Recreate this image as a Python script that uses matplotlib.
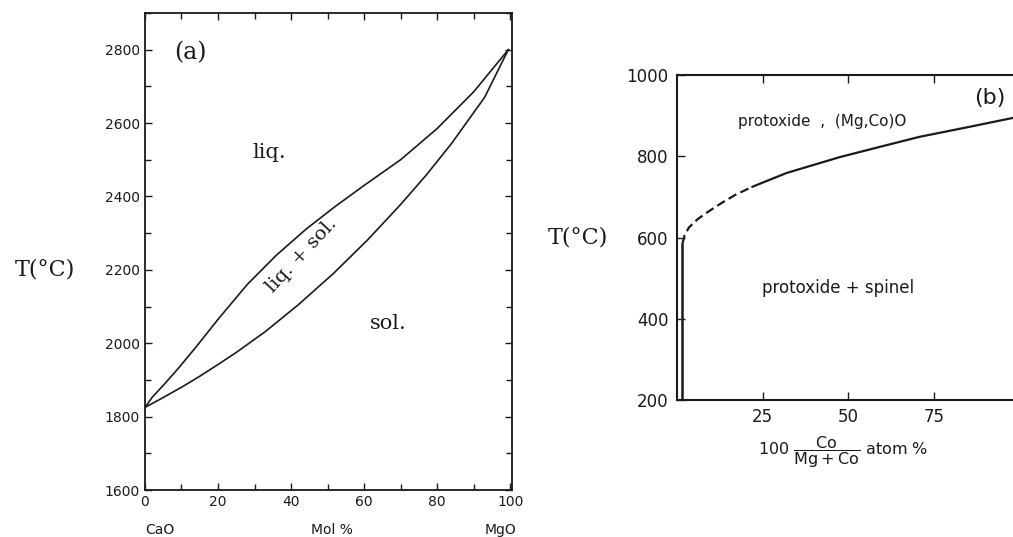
import matplotlib.pyplot as plt
from matplotlib.ticker import MultipleLocator

# (a) CaO - MgO : liquidus and solidus
mol_liq = [0, 2, 5, 9, 14, 20, 28, 36, 44, 52, 60, 70, 80, 90, 99.5]
t_liq = [1825, 1853, 1885, 1930, 1990, 2065, 2160, 2240, 2310, 2372, 2430, 2500, 2585, 2685, 2800]
mol_sol = [0, 5, 10, 15, 20, 25, 33, 42, 51.6, 61, 70, 77, 84, 93, 99.5]
t_sol = [1825, 1852, 1880, 1910, 1942, 1975, 2032, 2105, 2190, 2282, 2378, 2458, 2545, 2670, 2800]

# (b) MgO - CoO : solvus
co_solid = [22, 32, 47.5, 60, 70.8, 85, 97.7, 100]
t_solid = [725, 759, 798, 825, 848, 872, 894, 898]
co_dash = [1.6, 2.2, 3.5, 6, 9, 13, 17, 22]
t_dash = [585, 605, 625, 645, 663, 685, 705, 725]
co_vert = [1.6, 1.6]
t_vert = [200, 585]

a_xticks = [0, 20, 40, 60, 80, 100]
a_yticks = [1600, 1800, 2000, 2200, 2400, 2600, 2800]
b_xticks = [25, 50, 75]
b_yticks = [200, 400, 600, 800, 1000]

plt.rcParams['mathtext.fontset'] = 'dejavusans'
ink = '#1a1a1a'

fig = plt.figure(figsize=(10.13, 5.37), dpi=100)

# ---- panel (a)
ax1 = fig.add_axes([0.1431, 0.0875, 0.3623, 0.8883])
ax1.plot(mol_liq, t_liq, color=ink, lw=1.2)
ax1.plot(mol_sol, t_sol, color=ink, lw=1.2)
ax1.set_xlim(0, 100.5)
ax1.set_ylim(1600, 2900)
ax1.set_xticks(a_xticks)
ax1.set_yticks(a_yticks)
ax1.xaxis.set_minor_locator(MultipleLocator(10))
ax1.yaxis.set_minor_locator(MultipleLocator(100))
ax1.tick_params(which='both', direction='in', top=True, right=True,
                labelsize=10, colors=ink, width=1.0)
ax1.tick_params(which='major', length=5)
ax1.tick_params(which='minor', length=4)
for sp in ax1.spines.values():
    sp.set_linewidth(1.3)
    sp.set_color(ink)

serif = 'DejaVu Serif'
ax1.text(12.5, 2792, '(a)', family=serif, fontsize=17, ha='center', va='center', color=ink)
ax1.text(34, 2520, 'liq.', family=serif, fontsize=15, ha='center', va='center', color=ink)
ax1.text(66.5, 2055, 'sol.', family=serif, fontsize=15, ha='center', va='center', color=ink)
ax1.text(43, 2240, 'liq. + sol.', family=serif, fontsize=14, ha='center', va='center',
         rotation=47, rotation_mode='anchor', color=ink)
ax1.text(-0.272, 2200, 'T(°C)', family=serif, fontsize=16, ha='center', va='center',
         transform=ax1.get_yaxis_transform(), color=ink)
ax1.text(0.04, -0.084, 'CaO', fontsize=10, ha='center', va='center', transform=ax1.transAxes, color=ink)
ax1.text(0.51, -0.084, 'Mol %', fontsize=10, ha='center', va='center', transform=ax1.transAxes, color=ink)
ax1.text(0.97, -0.084, 'MgO', fontsize=10, ha='center', va='center', transform=ax1.transAxes, color=ink)

# ---- panel (b)
ax2 = fig.add_axes([0.6683, 0.2551, 0.3386, 0.6052])
ax2.plot(co_solid, t_solid, color=ink, lw=1.6)
ax2.plot(co_dash, t_dash, color=ink, lw=1.6, ls=(0, (4, 2)))
ax2.plot(co_vert, t_vert, color=ink, lw=1.8)
ax2.set_xlim(0, 100)
ax2.set_ylim(200, 1000)
ax2.set_xticks(b_xticks)
ax2.set_yticks(b_yticks)
ax2.tick_params(direction='in', top=True, right=False, length=6, width=1.0,
                labelsize=12, colors=ink, pad=6)
for sp in ax2.spines.values():
    sp.set_linewidth(1.5)
    sp.set_color(ink)

ax2.text(42.3, 885, 'protoxide  ,  (Mg,Co)O', fontsize=11, ha='center', va='center', color=ink)
ax2.text(47, 476, 'protoxide + spinel', fontsize=12, ha='center', va='center', color=ink)
ax2.text(91.3, 944, '(b)', fontsize=16, ha='center', va='center', color=ink)
ax2.text(-0.29, 600, 'T(°C)', family=serif, fontsize=16, ha='center', va='center',
         transform=ax2.get_yaxis_transform(), color=ink)
ax2.text(0.484, -0.16, r'100 $\dfrac{\mathrm{Co}}{\mathrm{Mg+Co}}$ atom %', fontsize=11.5,
         ha='center', va='center', transform=ax2.transAxes, color=ink)

fig.savefig('out.png', dpi=100, facecolor='white')
